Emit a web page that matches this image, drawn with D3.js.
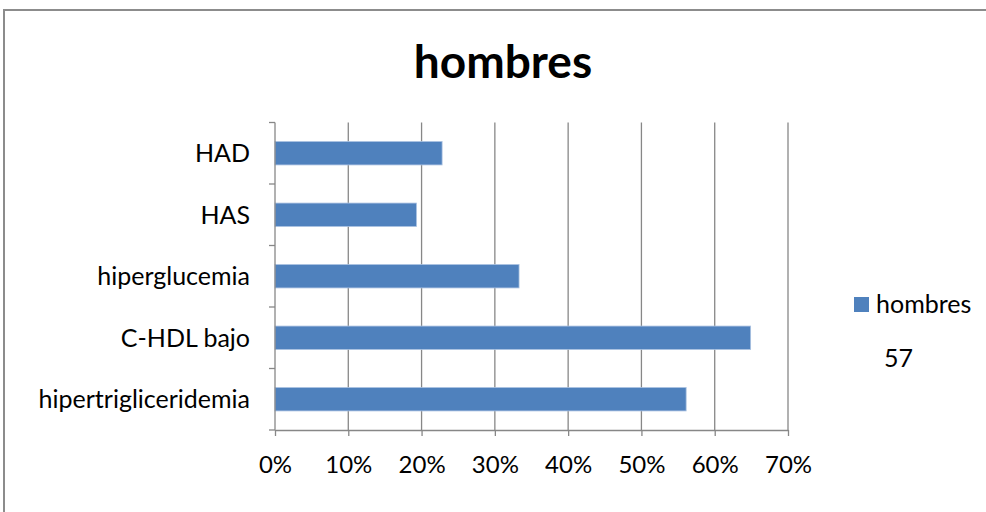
<!DOCTYPE html>
<html>
<head>
<meta charset="utf-8">
<script src="https://cdn.jsdelivr.net/npm/d3@7"></script>
<style>
  html, body { margin: 0; padding: 0; background: #fff; }
  svg { display: block; }
  text { font-family: Lato, 'Noto Sans', sans-serif; fill: #000; }
</style>
</head>
<body>
<svg id="chart" width="986" height="512"></svg>
<script>
// categories top to bottom as shown
const categories = ['HAD', 'HAS', 'hiperglucemia', 'C-HDL bajo', 'hipertrigliceridemia']
// percentage of men
const values = [22.8, 19.3, 33.3, 64.9, 56.1]
const xTicks = [0, 10, 20, 30, 40, 50, 60, 70]
const seriesName = 'hombres'
const title = 'hombres'
const note = '57'

const svg = d3.select('#chart')
const grey = '#878787'
const barColor = '#4f81bd'

// outer chart border (runs past the right and bottom edge)
svg.append('rect')
  .attr('x', 4).attr('y', 10)
  .attr('width', 1200).attr('height', 700)
  .attr('fill', 'none')
  .attr('stroke', '#8c8c8c')
  .attr('stroke-width', 2)

svg.append('text')
  .attr('x', 503).attr('y', 78)
  .attr('text-anchor', 'middle')
  .attr('font-size', 46)
  .attr('font-weight', 'bold')
  .text(title)

const margin = { left: 275, right: 788, top: 122.5, bottom: 430 }

const x = d3.scaleLinear().domain([0, 70]).range([margin.left, margin.right])
const y = d3.scaleBand()
  .domain(categories)
  .range([margin.top, margin.bottom])
  .paddingInner(0.62)
  .paddingOuter(0.31)

// vertical gridlines
svg.append('g')
  .selectAll('line')
  .data(xTicks.slice(1))
  .join('line')
  .attr('x1', d => x(d)).attr('x2', d => x(d))
  .attr('y1', margin.top).attr('y2', margin.bottom)
  .attr('stroke', grey)
  .attr('stroke-width', 1.3)

// bars
svg.append('g')
  .selectAll('rect')
  .data(categories)
  .join('rect')
  .attr('x', x(0))
  .attr('y', d => y(d))
  .attr('width', (d, i) => x(values[i]) - x(0))
  .attr('height', y.bandwidth())
  .attr('fill', barColor)
  .attr('stroke', '#a9c1e0')
  .attr('stroke-width', 0.8)

// bottom axis
const xAxis = d3.axisBottom(x)
  .tickValues(xTicks)
  .tickFormat(d => d + '%')
  .tickSize(6)
  .tickSizeOuter(0)
  .tickPadding(20)

const gx = svg.append('g')
  .attr('transform', `translate(0,${margin.bottom})`)
  .call(xAxis)
gx.select('.domain').attr('stroke', grey).attr('stroke-width', 1.3)
gx.selectAll('.tick line').attr('stroke', grey).attr('stroke-width', 1.3)
gx.selectAll('.tick text')
  .attr('font-size', 24)
  .attr('font-family', 'Lato, sans-serif')
  .attr('fill', '#111')

// left axis: ticks sit on the category boundaries
const boundaries = d3.range(categories.length + 1)
  .map(i => margin.top + i * y.step())

svg.append('line')
  .attr('x1', margin.left).attr('x2', margin.left)
  .attr('y1', margin.top).attr('y2', margin.bottom)
  .attr('stroke', grey).attr('stroke-width', 1.3)

svg.append('g')
  .selectAll('line')
  .data(boundaries)
  .join('line')
  .attr('x1', margin.left - 6).attr('x2', margin.left)
  .attr('y1', d => d).attr('y2', d => d)
  .attr('stroke', grey).attr('stroke-width', 1.3)

svg.append('g')
  .selectAll('text')
  .data(categories)
  .join('text')
  .attr('x', 250)
  .attr('y', d => y(d) + y.bandwidth() / 2)
  .attr('dy', '0.36em')
  .attr('text-anchor', 'end')
  .attr('font-size', 25)
  .attr('fill', '#111')
  .text(d => d)

// legend
const legend = svg.append('g').attr('transform', 'translate(854,297)')
legend.append('rect')
  .attr('width', 15).attr('height', 15)
  .attr('fill', barColor)
legend.append('text')
  .attr('x', 22).attr('y', 15.5)
  .attr('font-size', 25)
  .attr('fill', '#111')
  .text(seriesName)

svg.append('text')
  .attr('x', 884).attr('y', 367)
  .attr('font-size', 25)
  .attr('fill', '#111')
  .text(note)
</script>
</body>
</html>
